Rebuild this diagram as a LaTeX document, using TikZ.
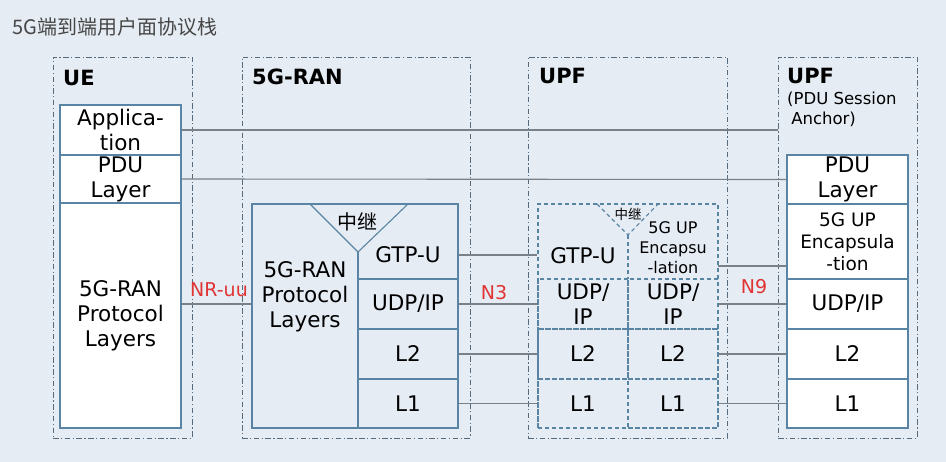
\documentclass[tikz,border=0pt]{standalone}
\usepackage{fontspec}
\setmainfont{DejaVu Sans}
\newfontfamily\cjk{Noto Sans CJK SC}
\definecolor{fond}{HTML}{E6ECF4}
\definecolor{cadre}{HTML}{566A7C}
\definecolor{bord}{HTML}{5A84A4}
\definecolor{trait}{HTML}{7A8088}
\definecolor{rouge}{HTML}{E03434}

\begin{document}
\begin{tikzpicture}[x=1pt,y=-1pt]
		\tikzstyle{conteneur}=[draw=cadre,rectangle,line width=0.9pt,dash pattern=on 5.5pt off 2.5pt on 1.2pt off 2.5pt,inner sep=0pt]
		\tikzstyle{titre}=[anchor=base west,inner sep=0pt,font=\bfseries\fontsize{21}{25}\selectfont]
		\tikzstyle{couche}=[draw=bord,fill=white,rectangle,line width=1.1pt,inner sep=0pt,align=center,font=\fontsize{21.5}{25}\selectfont]
		\tikzstyle{case}=[draw=bord,rectangle,line width=1.1pt,inner sep=0pt,align=center,font=\fontsize{21.5}{25}\selectfont]
		\tikzstyle{pointille}=[draw=bord,rectangle,line width=1.1pt,dash pattern=on 4pt off 3pt,inner sep=0pt,align=center,font=\fontsize{21.5}{25}\selectfont]
		\tikzstyle{texte}=[inner sep=0pt,align=center,font=\fontsize{21.5}{25}\selectfont]
		\tikzstyle{interface}=[inner sep=0pt,text=rouge,font=\fontsize{19}{22}\selectfont]
		\tikzstyle{lien}=[draw=trait,line width=1.1pt]
		% fond
		\fill[fond] (0,0) rectangle (946,462);
		\node[anchor=west,inner sep=0pt,text=black!72,font=\cjk\fontsize{20}{22}\selectfont] (titre) at (12,27){5G端到端用户面协议栈};
		% conteneurs
		\node[conteneur,minimum width=139pt,minimum height=381pt] (UE) at (122.5,247.5){};
		\node[conteneur,minimum width=228pt,minimum height=381pt] (RAN) at (356,247.5){};
		\node[conteneur,minimum width=199pt,minimum height=381pt] (UPF) at (627.5,247.5){};
		\node[conteneur,minimum width=139pt,minimum height=381pt] (PSA) at (847.5,247.5){};
		\node[titre] (tUE) at (63,86){UE};
		\node[titre] (tRAN) at (252,85){5G-RAN};
		\node[titre] (tUPF) at (539,84){UPF};
		\node[titre] (tPSA) at (787,84){UPF};
		\node[anchor=base west,inner sep=0pt,align=left,font=\fontsize{16.5}{20}\selectfont] (tancre) at (787,125){(PDU Session\\\hspace*{0.25em}Anchor)};
		% UE
		\node[couche,minimum width=121pt,minimum height=50pt] (app) at (120.5,130){Applica-\\tion};
		\node[couche,minimum width=121pt,minimum height=48pt] (pdu) at (120.5,179){PDU\\Layer};
		\node[couche,minimum width=121pt,minimum height=225pt] (ranue) at (120.5,315.5){5G-RAN\\Protocol\\Layers};
		% 5G-RAN
		\node[case,minimum width=206pt,minimum height=224pt] (ranbox) at (355,316){};
		\draw[draw=bord,line width=1.1pt] (310,204)--(358,252)--(408,204);
		\draw[draw=bord,line width=1.1pt] (358,252)--(358,279);
		\node[inner sep=0pt,font=\cjk\fontsize{20}{22}\selectfont] (relais) at (357,222){中继};
		\node[texte] (ranproto) at (305,297){5G-RAN\\Protocol\\Layers};
		\node[texte] (rangtp) at (408,255){GTP-U};
		\node[case,minimum width=100pt,minimum height=50pt] (ranudp) at (408,304){UDP/IP};
		\node[case,minimum width=100pt,minimum height=50pt] (ranl2) at (408,354){L2};
		\node[case,minimum width=100pt,minimum height=49pt] (ranl1) at (408,403.5){L1};
		% UPF
		\node[pointille,minimum width=180pt,minimum height=224pt] (upfbox) at (628,316){};
		\draw[draw=bord,line width=1.1pt,dash pattern=on 4pt off 3pt] (597,204)--(628,235)--(658,204);
		\draw[draw=bord,line width=1.1pt,dash pattern=on 4pt off 3pt] (628,235)--(628,279);
		\node[inner sep=0pt,font=\cjk\fontsize{13.5}{15}\selectfont] (relais2) at (628,214){中继};
		\node[texte] (upfgtp) at (583,256){GTP-U};
		\node[texte,font=\fontsize{16}{20}\selectfont] (upfenc) at (673,248){5G UP\\Encapsu\\-lation};
		\node[pointille,minimum width=90pt,minimum height=50pt] (upfudp) at (583,304){UDP/\\IP};
		\node[pointille,minimum width=90pt,minimum height=50pt] (upfudpb) at (673,304){UDP/\\IP};
		\node[pointille,minimum width=90pt,minimum height=50pt] (upfl2) at (583,354){L2};
		\node[pointille,minimum width=90pt,minimum height=50pt] (upfl2b) at (673,354){L2};
		\node[pointille,minimum width=90pt,minimum height=49pt] (upfl1) at (583,403.5){L1};
		\node[pointille,minimum width=90pt,minimum height=49pt] (upfl1b) at (673,403.5){L1};
		% UPF (PDU Session Anchor)
		\node[couche,minimum width=121pt,minimum height=49pt] (pdua) at (847.5,179.5){PDU\\Layer};
		\node[couche,minimum width=121pt,minimum height=75pt,font=\fontsize{18.5}{22}\selectfont] (enca) at (847.5,241.5){5G UP\\Encapsula\\-tion};
		\node[couche,minimum width=121pt,minimum height=50pt] (udpa) at (847.5,304){UDP/IP};
		\node[couche,minimum width=121pt,minimum height=50pt] (l2a) at (847.5,354){L2};
		\node[couche,minimum width=121pt,minimum height=49pt] (l1a) at (847.5,403.5){L1};
		% interfaces
		\node[interface] (NRuu) at (219,290){NR-uu};
		\node[interface] (N3) at (494,293){N3};
		\node[interface] (N9) at (754,287){N9};
		\coordinate (n9) at (718,266);
		
		\draw[lien] (app.east)--(app.east -| PSA.west);
		\draw[lien] (pdu.east)--(pdua.west);
		\draw[lien] (ranue.east |- ranudp)--(ranbox.west |- ranudp);
		\draw[lien] (ranbox.east |- rangtp)--(upfbox.west |- rangtp);
		\draw[lien] (ranudp.east)--(upfudp.west);
		\draw[lien] (ranl2.east)--(upfl2.west);
		\draw[lien] (ranl1.east)--(upfl1.west);
		\draw[lien] (n9)--(enca.west |- n9);
		\draw[lien] (upfudpb.east)--(udpa.west);
		\draw[lien] (upfl2b.east)--(l2a.west);
		\draw[lien] (upfl1b.east)--(l1a.west);
		
	\end{tikzpicture}
\end{document}
